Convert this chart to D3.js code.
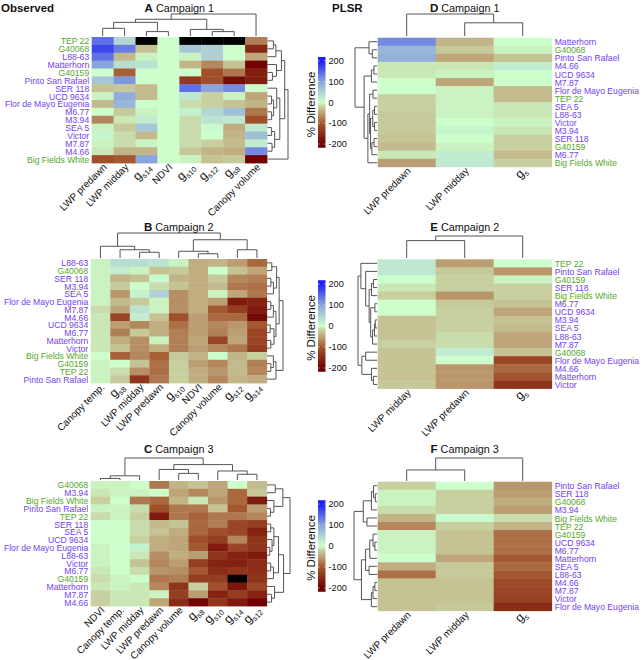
<!DOCTYPE html>
<html><head><meta charset="utf-8">
<script src="https://cdn.jsdelivr.net/npm/d3@7"></script>
<style>
body{margin:0;background:#fff}
text{font-family:"Liberation Sans",Arial,Helvetica,sans-serif}
</style>
</head><body>
<svg id="chart" width="644" height="660"></svg>
<script>
// ---------------- DATA ----------------
const greenGenotypes = ["TEP 22","G40068","G40159","Big Fields White"];

// Panel A - Observed, Campaign 1
const rowsA = ["TEP 22","G40068","L88-63","Matterhorn","G40159","Pinto San Rafael","SER 118","UCD 9634","Flor de Mayo Eugenia","M6.77","M3.94","SEA 5","Victor","M7.87","M4.66","Big Fields White"];
const colsA = ["LWP predawn","LWP midday","g_s14","NDVI","g_s10","g_s12","g_s8","Canopy volume"];
const valuesA = [
  [140, 45, null, 0, null, null, null, -75],
  [170, 130, -30, 0, 60, 50, 0, -155],
  [140, -35, -5, 0, -5, 50, 0, -50],
  [100, 35, 30, 0, -40, -70, -30, -195],
  [0, -95, 0, 0, 0, -110, -80, -165],
  [60, 110, 0, 0, -135, -110, -185, -165],
  [-30, -25, -35, 0, 140, 100, 120, 0],
  [-5, 90, -35, 0, 25, -20, -5, -50],
  [-35, 80, 0, 0, -15, -20, -30, -40],
  [0, -25, -5, 0, 15, 45, 70, -80],
  [-70, -10, 20, 0, -15, 30, 25, -110],
  [-5, -25, 60, 0, -15, 5, -45, 25],
  [10, -15, -35, 0, -15, 0, -40, 70],
  [-5, -15, -5, 0, -15, -20, -35, 20],
  [-10, -40, -40, 0, -25, -40, -45, 120],
  [-110, -100, 100, 0, -5, -30, -25, -200]
];
const rowTreeA = [1.0, [0.84, [0.68, [0.41, [0.29, 0, 1], 2], [0.44, 3, [0.24, 4, 5]]], [0.6, [0.45, 6, [0.3, [0.2, 7, 8], [0.2, 9, 10]]], [0.35, [0.2, 11, 12], [0.22, 13, 14]]]], 15];
const colTreeA = [1.0, [0.76, [0.62, [0.35, 0, 1], [0.2, 2, 3]], [0.3, 4, [0.2, 5, 6]]], 7];

// Panel B - Observed, Campaign 2
const rowsB = ["L88-63","G40068","SER 118","M3.94","SEA 5","Flor de Mayo Eugenia","M7.87","M4.66","UCD 9634","M6.77","Matterhorn","Victor","Big Fields White","G40159","TEP 22","Pinto San Rafael"];
const colsB = ["Canopy temp.","g_s8","LWP midday","LWP predawn","g_s10","NDVI","Canopy volume","g_s12","g_s14"];
const valuesB = [
  [-5, 35, 35, 30, -5, -45, -40, -55, -90],
  [-5, 20, -5, -30, -25, -45, 0, -30, -50],
  [-5, -40, -30, 5, -40, -45, -25, -70, -75],
  [-5, -25, 0, -15, -30, -45, -35, -80, -85],
  [-5, -60, 15, 50, -65, -45, -5, -50, -80],
  [-5, -35, -25, -5, -65, -45, -55, -170, -160],
  [-15, -50, 30, -5, -65, -45, -100, -130, -170],
  [-10, -120, 20, -30, -110, -55, -90, -90, -190],
  [-10, -55, -70, -45, -85, -55, -70, -60, -100],
  [-10, -75, -25, -45, -75, -55, -75, -55, -120],
  [-10, -45, -65, -5, -75, -50, -120, -50, -120],
  [-10, -30, -65, -45, -75, -55, -70, -80, -130],
  [0, -95, -70, -95, -25, -40, 0, -40, -20],
  [-5, 0, -30, -85, -20, -55, -70, -35, -75],
  [-5, -15, -65, -85, -20, -45, -60, -35, -70],
  [-5, -25, -140, -80, -20, -45, -70, -40, -45]
];
const rowTreeB = [1.0, [0.76, [0.6, [0.3, 0, 1], [0.4, [0.24, 2, 3], 4]], [0.56, [0.4, [0.24, 5, 6], 7], [0.44, [0.2, 8, 9], [0.24, 10, 11]]]], [0.56, [0.4, 12, [0.24, 13, 14]], 15]];
const colTreeB = [1.0, [0.47, 0, [0.33, 1, [0.23, 2, 3]]], [0.73, [0.27, 4, [0.17, 5, 6]], [0.33, 7, 8]]];

// Panel C - Observed, Campaign 3
const rowsC = ["G40068","M3.94","Big Fields White","Pinto San Rafael","TEP 22","SER 118","SEA 5","UCD 9634","Flor de Mayo Eugenia","L88-63","Victor","M6.77","G40159","Matterhorn","M7.87","M4.66"];
const colsC = ["NDVI","Canopy temp.","LWP midday","LWP predawn","Canopy volume","g_s8","g_s10","g_s14","g_s12"];
const valuesC = [
  [-5, -5, 0, -80, -40, -30, -50, 0, -35],
  [-10, -5, -5, 0, -50, -70, -50, -90, -25],
  [-20, 0, -80, -90, -40, -10, -60, -90, -170],
  [-5, -5, -15, -110, -80, -80, -30, -100, -55],
  [-15, -5, -20, -170, -80, -95, -80, -80, -70],
  [0, 0, -15, -35, -30, -90, -75, -120, -130],
  [0, 0, -15, -30, -45, -90, -110, -120, -160],
  [0, 0, -20, -45, -50, -110, -130, -70, -140],
  [-5, 0, 15, -45, -50, -100, -170, -120, -140],
  [-5, 0, -10, -65, -45, -55, -140, -160, -170],
  [-5, 0, -30, -70, -55, -130, -160, -165, -150],
  [-10, 0, -15, -60, -65, -100, -150, -140, -145],
  [-15, -5, 0, -80, -75, -130, -130, null, -140],
  [-10, -5, -10, -70, -140, -20, -110, -175, -120],
  [-20, -10, -10, -5, -130, -55, -160, -130, -160],
  [-20, -10, -10, -50, -150, -195, -140, -170, -200]
];
const rowTreeC = [1.0, [0.69, [0.36, 0, 1], [0.3, 2, [0.15, 3, 4]]], [0.72, [0.5, [0.3, [0.16, 5, 6], [0.22, 7, [0.12, 8, 9]]], [0.28, [0.16, 10, 11], 12]], [0.33, 13, [0.2, 14, 15]]]];
const colTreeC = [1.0, [0.19, [0.07, 0, 1], 2], [0.7, [0.48, 3, [0.3, 4, 5]], [0.41, 6, [0.26, 7, 8]]]];

// Panel D - PLSR, Campaign 1
const rowsD = ["Matterhorn","G40068","Pinto San Rafael","M4.66","UCD 9634","M7.87","Flor de Mayo Eugenia","TEP 22","SEA 5","L88-63","Victor","M3.94","SER 118","G40159","M6.77","Big Fields White"];
const colsD = ["LWP predawn","LWP midday","g_s"];
const valuesD = [
  [120, -40, 0], [80, -25, -5], [85, -50, -30], [-10, -10, 20],
  [-10, -5, 0], [0, -50, 0], [0, -5, -35], [-20, -5, -35],
  [-20, -5, -10], [-25, -5, -10], [-25, 0, -5], [-25, 10, -10],
  [-30, 0, -20], [-35, -5, -20], [-10, 20, -35], [-55, 25, -20]
];
const rowTreeD = [1.0, [0.37, 0, [0.22, 1, 2]], [0.59, [0.26, [0.15, 3, 4], 5], [0.42, [0.34, [0.19, 6, 7], [0.3, [0.2, [0.12, 8, 9], [0.12, 10, 11]], [0.24, [0.14, 12, 13], 14]]], 15]]];
const colTreeD = [1.0, 0, [0.6, 1, 2]];

// Panel E - PLSR, Campaign 2
const rowsE = ["TEP 22","Pinto San Rafael","G40159","SER 118","Big Fields White","M6.77","UCD 9634","M3.94","SEA 5","L88-63","M7.87","G40068","Flor de Mayo Eugenia","M4.66","Matterhorn","Victor"];
const colsE = ["LWP midday","LWP predawn","g_s"];
const valuesE = [
  [25, -55, 0], [25, -25, -60], [0, -20, -5], [-10, -20, -20],
  [-20, -60, -20], [0, -25, -30], [0, -20, -50], [-30, -20, -30],
  [-30, -20, -35], [-30, -15, -50], [-20, -15, -50], [-30, 20, -30],
  [-30, 0, -120], [-30, -60, -90], [-30, -60, -105], [-25, -60, -140]
];
const rowTreeE = [1.0, [0.85, 0, [0.6, 1, [0.42, [0.3, [0.2, 2, 3], 4], [0.34, [0.12, 5, 6], [0.24, [0.14, [0.1, 7, 8], 9], 10]]]]], [0.8, [0.6, 11, 12], [0.3, 13, [0.2, 14, 15]]]];
const colTreeE = [1.0, [0.79, 0, 1], 2];

// Panel F - PLSR, Campaign 3
const rowsF = ["Pinto San Rafael","SER 118","G40068","M3.94","Big Fields White","TEP 22","G40159","UCD 9634","M6.77","Matterhorn","SEA 5","L88-63","M4.66","M7.87","Victor","Flor de Mayo Eugenia"];
const colsF = ["LWP predawn","LWP midday","g_s"];
const valuesF = [
  [-20, 0, -60], [-5, -20, -55], [-5, -20, -45], [-15, -20, -55],
  [-40, 5, -15], [-70, -20, -40], [-5, -30, -85], [-5, -30, -85],
  [-5, -30, -85], [0, -50, -100], [-45, -25, -90], [-85, -25, -100],
  [-30, -30, -115], [-30, -30, -120], [-30, -30, -125], [-30, -25, -150]
];
const rowTreeF = [1.0, [0.6, [0.25, [0.16, 0, [0.08, 1, 2]], 3], [0.44, 4, 5]], [0.68, [0.5, [0.32, [0.18, 6, [0.1, 7, 8]], 9], [0.35, 10, 11]], [0.25, [0.18, [0.1, 12, 13], 14], 15]]];
const colTreeF = [1.0, [0.48, 0, 1], 2];

const colorTicks = [200, 100, 0, -100, -200];

// ---------------- DRAWING ----------------
const svg = d3.select("#chart");
const purple = "#7442ee", green = "#55a82b", lineCol = "#555";

const color = d3.scaleLinear()
  .domain([-200, -100, -50, -20, 0, 50, 100, 200])
  .range(["#700000", "#a4582f", "#bea67a", "#c8d0a0", "#ccffcc", "#b0d0d4", "#8aa4dc", "#1f1ff2"])
  .clamp(true);

const panels = [
  {rows: rowsA, cols: colsA, vals: valuesA, rt: rowTreeA, ct: colTreeA, side: "left",
   x0: 91.7, x1: 267, y0: 37, y1: 163, cdLeaf: 36, cdRoot: 14, rdLeaf: 267.5, rdRoot: 288,
   letter: "A", title: "Campaign 1", ty: 12, cb: [60.7, 144]},
  {rows: rowsB, cols: colsB, vals: valuesB, rt: rowTreeB, ct: colTreeB, side: "left",
   x0: 90.7, x1: 266.7, y0: 259, y1: 383, cdLeaf: 258, cdRoot: 233, rdLeaf: 267, rdRoot: 283,
   letter: "B", title: "Campaign 2", ty: 231, cb: [284, 368]},
  {rows: rowsC, cols: colsC, vals: valuesC, rt: rowTreeC, ct: colTreeC, side: "left",
   x0: 90.7, x1: 266.7, y0: 481, y1: 606, cdLeaf: 480, cdRoot: 458, rdLeaf: 267, rdRoot: 290,
   letter: "C", title: "Campaign 3", ty: 453, cb: [504, 588]},
  {rows: rowsD, cols: colsD, vals: valuesD, rt: rowTreeD, ct: colTreeD, side: "right",
   x0: 377.7, x1: 551.7, y0: 37.7, y1: 166.8, cdLeaf: 36, cdRoot: 14, rdLeaf: 377.2, rdRoot: 355,
   letter: "D", title: "Campaign 1", ty: 12},
  {rows: rowsE, cols: colsE, vals: valuesE, rt: rowTreeE, ct: colTreeE, side: "right",
   x0: 377.7, x1: 551.7, y0: 259.3, y1: 388.5, cdLeaf: 258, cdRoot: 236, rdLeaf: 377.2, rdRoot: 358,
   letter: "E", title: "Campaign 2", ty: 231},
  {rows: rowsF, cols: colsF, vals: valuesF, rt: rowTreeF, ct: colTreeF, side: "right",
   x0: 377.7, x1: 551.7, y0: 481.7, y1: 610.7, cdLeaf: 481, cdRoot: 458, rdLeaf: 377.2, rdRoot: 354,
   letter: "F", title: "Campaign 3", ty: 453}
];

// section headers
svg.append("text").attr("x", 1).attr("y", 12).attr("font-size", 11.5).attr("font-weight", "bold")
  .attr("fill", "#111").text("Observed");
svg.append("text").attr("x", 332).attr("y", 12).attr("font-size", 11.5).attr("font-weight", "bold")
  .attr("fill", "#111").text("PLSR");

function drawTree(g, tree, posScale, hScale, orient) {
  function rec(node) {
    if (typeof node === "number") return {p: posScale(node), h: 0};
    const a = rec(node[1]), b = rec(node[2]), h = node[0];
    let d;
    if (orient === "col") {
      d = `M${a.p},${hScale(a.h)}V${hScale(h)}H${b.p}V${hScale(b.h)}`;
    } else {
      d = `M${hScale(a.h)},${a.p}H${hScale(h)}V${b.p}H${hScale(b.h)}`;
    }
    g.append("path").attr("d", d).attr("fill", "none").attr("stroke", lineCol).attr("stroke-width", 1);
    return {p: (a.p + b.p) / 2, h: h};
  }
  rec(tree);
}

function addLabel(sel, name) {
  if (name.startsWith("g_")) {
    sel.append("tspan").attr("font-size", 12.5).text("g");
    sel.append("tspan").attr("font-size", 7.5).attr("dy", 3).text(name.slice(2));
  } else {
    sel.text(name);
  }
}

panels.forEach((p, pi) => {
  const g = svg.append("g");
  const x = d3.scaleBand().domain(d3.range(p.cols.length)).range([p.x0, p.x1]);
  const y = d3.scaleBand().domain(d3.range(p.rows.length)).range([p.y0, p.y1]);

  // cells
  const cells = [];
  p.vals.forEach((row, i) => row.forEach((v, j) => cells.push({i, j, v})));
  g.selectAll("rect.cell").data(cells).join("rect").attr("class", "cell")
    .attr("x", d => x(d.j)).attr("y", d => y(d.i))
    .attr("width", x.bandwidth() + 0.4).attr("height", y.bandwidth() + 0.4)
    .attr("fill", d => d.v === null ? "#000" : color(d.v));

  // column dendrogram
  const ch = d3.scaleLinear().domain([0, 1]).range([p.cdLeaf, p.cdRoot]);
  drawTree(g, p.ct, j => x(j) + x.bandwidth() / 2, ch, "col");
  // row dendrogram
  const rh = d3.scaleLinear().domain([0, 1]).range([p.rdLeaf, p.rdRoot]);
  drawTree(g, p.rt, i => y(i) + y.bandwidth() / 2, rh, "row");

  // row labels (slightly condensed horizontally)
  const lx = p.side === "left" ? p.x0 - 2.5 : p.x1 + 3;
  g.selectAll("text.row").data(p.rows).join("text").attr("class", "row")
    .attr("transform", (d, i) => `translate(${lx},${y(i) + y.bandwidth() / 2}) scale(0.88,1)`)
    .attr("dy", "0.36em")
    .attr("text-anchor", p.side === "left" ? "end" : "start")
    .attr("font-size", 9.8)
    .attr("fill", d => greenGenotypes.includes(d) ? green : purple)
    .text(d => d);

  // column labels
  p.cols.forEach((c, j) => {
    const cx = x(j) + x.bandwidth() / 2 + 3;
    const cy = p.y1 + 3;
    const t = g.append("text")
      .attr("transform", `translate(${cx},${cy}) rotate(-45)`)
      .attr("text-anchor", "end").attr("dy", "0.25em")
      .attr("font-size", 10).attr("fill", "#111");
    addLabel(t, c);
  });

  // title
  const tt = g.append("text").attr("x", (p.x0 + p.x1) / 2).attr("y", p.ty)
    .attr("text-anchor", "middle").attr("font-size", 10.8).attr("fill", "#111");
  tt.append("tspan").attr("font-weight", "bold").attr("font-size", 11.5).text(p.letter);
  tt.append("tspan").text(" " + p.title);

  // colour key
  if (p.cb) {
    const ky = d3.scaleLinear().domain([200, -200]).range(p.cb);
    const gid = "grad" + pi;
    const grad = svg.append("defs").append("linearGradient").attr("id", gid)
      .attr("x1", 0).attr("y1", 0).attr("x2", 0).attr("y2", 1);
    const top = 218, bot = -218;
    d3.range(0, 1.0001, 0.025).forEach(t => {
      const v = top + (bot - top) * t;
      grad.append("stop").attr("offset", t).attr("stop-color", color(v));
    });
    const bx = 318, bw = 7.5;
    g.append("rect").attr("x", bx).attr("y", ky(top)).attr("width", bw)
      .attr("height", ky(bot) - ky(top)).attr("fill", `url(#${gid})`);
    colorTicks.forEach(t => {
      g.append("line").attr("x1", bx).attr("x2", bx + 1.6).attr("y1", ky(t)).attr("y2", ky(t))
        .attr("stroke", "#fff").attr("stroke-opacity", 0.7).attr("stroke-width", 0.8);
      g.append("line").attr("x1", bx + bw - 1.6).attr("x2", bx + bw).attr("y1", ky(t)).attr("y2", ky(t))
        .attr("stroke", "#fff").attr("stroke-opacity", 0.7).attr("stroke-width", 0.8);
      g.append("text").attr("x", bx + bw + 3).attr("y", ky(t)).attr("dy", "0.35em")
        .attr("font-size", 9.2).attr("fill", "#111").text(t);
    });
    g.append("text")
      .attr("transform", `translate(315,${(ky(200) + ky(-200)) / 2 + 2}) rotate(-90)`)
      .attr("text-anchor", "middle").attr("font-size", 11.5).attr("fill", "#111")
      .text("% Difference");
  }
});
</script>
</body></html>
